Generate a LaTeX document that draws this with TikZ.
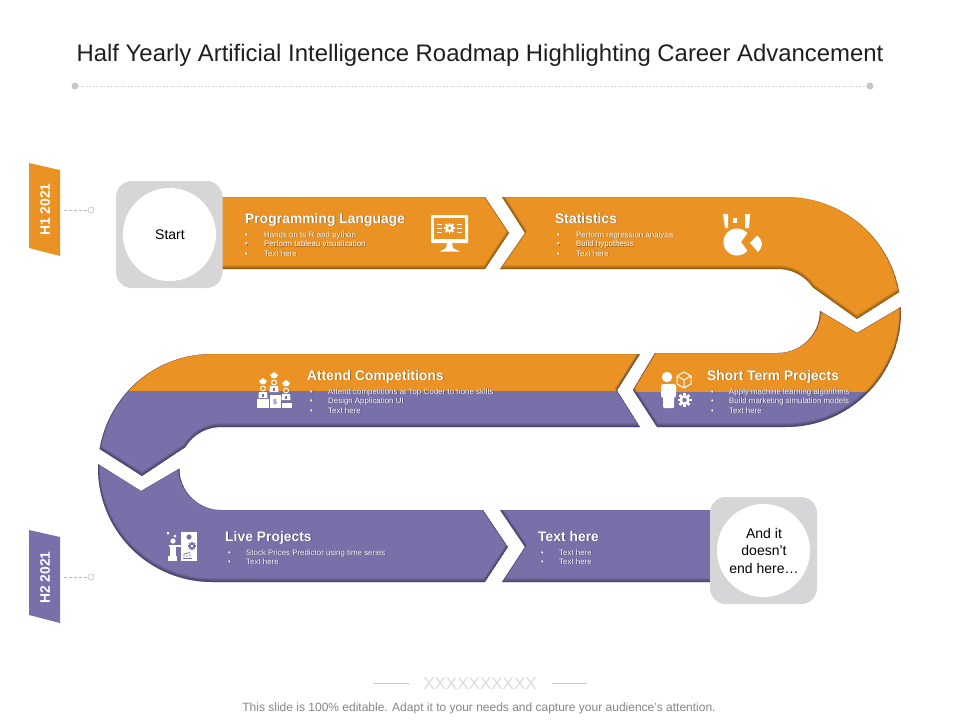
\documentclass[tikz,border=0pt]{standalone}
\usepackage{fontspec}
\setmainfont{Liberation Sans}
\definecolor{orangeB}{HTML}{EA9324}
\definecolor{purpleB}{HTML}{7870A8}
\definecolor{orangeD}{HTML}{5E3C0C}
\definecolor{purpleD}{HTML}{2E2A48}
\definecolor{orangeS}{HTML}{8A5A18}
\definecolor{purpleS}{HTML}{3F3A62}
\definecolor{boxgrey}{HTML}{D6D6D8}
\newcommand\shtxt[2]{\leavevmode\rlap{\kern.7pt\raisebox{-.7pt}{\textcolor{#1}{#2}}}#2}
\tikzset{
  headtxt/.style={anchor=base west,inner sep=0pt,text=white,font=\bfseries\fontsize{13.9}{15}\selectfont},
  bodytxt/.style={anchor=base west,inner sep=0pt,text=white,font=\fontsize{7.9}{9}\selectfont},
  tagtxt/.style={rotate=90,inner sep=0pt,text=white,font=\bfseries\fontsize{13.8}{15}\selectfont},
  blacktxt/.style={inner sep=0pt,align=center,text=black,font=\fontsize{14}{17.5}\selectfont},
  linkline/.style={draw=black!28,line width=.5pt,dash pattern=on 3pt off 2pt},
  linkdot/.style={circle,draw=black!28,fill=white,line width=.5pt,minimum size=6pt,inner sep=0pt},
  ruledot/.style={circle,fill=black!22,minimum size=7pt,inner sep=0pt},
  boxbg/.style={fill=boxgrey,rounded corners=16pt},
}
\newcommand\band[4]{%
  \begin{scope}
    \clip #1;
    \fill[#2] #1;
    #4
    \begin{scope}[yshift=.6pt]
      \draw[#3,opacity=.3,line width=1.2pt] #1;
    \end{scope}
    \begin{scope}[yshift=1.2pt]
      \draw[#3,opacity=.25,line width=2.4pt] #1;
    \end{scope}
    \begin{scope}[yshift=1.8pt]
      \draw[#3,opacity=.2,line width=3.6pt] #1;
    \end{scope}
  \end{scope}}
\newcommand\bline[6]{\node[bodytxt] (#1) at (#2,#3) {\makebox[#4pt][l]{\shtxt{#5}{•}}\shtxt{#5}{#6}};}
\newcommand\cog[5]{%
  \foreach \a in {0,45,...,315}{\draw[#4,line width=#3*.36pt] ({#1+#3*.6*cos(\a)},{#2+#3*.6*sin(\a)}) -- ({#1+#3*cos(\a)},{#2+#3*sin(\a)});}
  \fill[#4] (#1,#2) circle[radius=#3*.72pt];
  \fill[#5] (#1,#2) circle[radius=#3*.32pt];}
\def\segA{(215,197) -- (485,197) -- (509,233) -- (485,269) -- (215,269) -- cycle}
\def\segB{(502,197) -- (786,197) -- plot[domain=-90:-10,samples=40] ({786+115*cos(\x)},{312+115*sin(\x)}) -- (857,319) -- plot[domain=-34.4:-90,samples=25] ({778+42*cos(\x)},{311+42*sin(\x)}) -- (500,269) -- (525,233) -- cycle}
\def\segC{(820,311) -- (857,333) -- (901,307) -- plot[domain=-2.5:90,samples=40] ({786+115*cos(\x)},{312+115*sin(\x)}) -- (657,427) -- (633,390) -- (655,353) -- plot[domain=90:0,samples=25] ({778+42*cos(\x)},{311+42*sin(\x)}) -- cycle}
\def\segD{(640,354) -- (617,390.5) -- (640,427) -- plot[domain=270:211,samples=25] ({221+41.5*cos(\x)},{468.5+41.5*sin(\x)}) -- (142,476) -- plot[domain=189.6:270,samples=40] ({212+114*cos(\x)},{468+114*sin(\x)}) -- cycle}
\def\segE{(141,491) -- (179.5,468.5) -- plot[domain=180:90,samples=25] ({221+41.5*cos(\x)},{468.5+41.5*sin(\x)}) -- (483,510) -- (508,547) -- (485,582) -- plot[domain=90:182,samples=40] ({212+114*cos(\x)},{468+114*sin(\x)}) -- cycle}
\def\segF{(500,510) -- (525,547) -- (502,582) -- (720,582) -- (720,510) -- cycle}
\begin{document}
\begin{tikzpicture}[x=1pt,y=-1pt]
\useasboundingbox (0,0) rectangle (960,720);
% title
\node[inner sep=0pt,text=black!88,font=\fontsize{23.9}{27}\selectfont] (title) at (480,55.5) {Half Yearly Artificial Intelligence Roadmap Highlighting Career Advancement};
\node[ruledot] (ruleL) at (75,86) {};
\node[ruledot] (ruleR) at (870,86) {};
\draw[draw=black!16,line width=.6pt,dash pattern=on 2pt off 1.5pt] (ruleL) -- (ruleR);
% tags
\fill[orangeB] (29,163) -- (60,170) -- (60,256) -- (29,248) -- cycle;
\fill[purpleB] (29,530) -- (60,537) -- (60,623) -- (29,615) -- cycle;
\node[tagtxt] (tagA) at (45,209.5) {H1 2021};
\node[tagtxt] (tagB) at (45,577.5) {H2 2021};
\coordinate (tagAout) at (64,210);
\coordinate (tagBout) at (64,577);
\node[linkdot] (dotA) at (91,210) {};
\node[linkdot] (dotB) at (91,577) {};
\draw[linkline] (tagAout) -- (dotA);
\draw[linkline] (tagBout) -- (dotB);
% bands
\band{\segA}{orangeB}{orangeD}{}
\band{\segB}{orangeB}{orangeD}{}
\band{\segC}{purpleB}{purpleD}{\fill[orangeB] (620,300) rectangle (910,391.5);}
\band{\segD}{purpleB}{purpleD}{\fill[orangeB] (90,340) rectangle (650,391);}
\band{\segE}{purpleB}{purpleD}{}
\band{\segF}{purpleB}{purpleD}{}
% start / end boxes
\fill[boxbg] (116,181) rectangle (222.5,288);
\node[circle,fill=white,minimum size=93pt,inner sep=0pt] (startC) at (169.5,234.5) {};
\node[blacktxt] (startT) at (170,235) {Start};
\fill[boxbg] (710,497) rectangle (817,604);
\node[circle,fill=white,minimum size=93pt,inner sep=0pt] (endC) at (763.5,550.5) {};
\node[blacktxt] (endT) at (764,550.5) {And it\\doesn’t\\end here…};
% step texts
\node[headtxt] (h1) at (245,223) {\shtxt{orangeS}{Programming Language}};
\bline{a1}{245}{237.2}{19}{orangeS}{Hands on to R and python}
\bline{a2}{245}{246.7}{19}{orangeS}{Perform tableau visualization}
\bline{a3}{245}{256.2}{19}{orangeS}{Text here}
\node[headtxt] (h2) at (555,223) {\shtxt{orangeS}{Statistics}};
\bline{b1}{557}{237.2}{19}{orangeS}{Perform regression analysis}
\bline{b2}{557}{246.7}{19}{orangeS}{Build hypothesis}
\bline{b3}{557}{256.2}{19}{orangeS}{Text here}
\node[headtxt] (h3) at (707,380) {\shtxt{orangeS}{Short Term Projects}};
\bline{c1}{711}{394.2}{18}{purpleS}{Apply machine learning algorithms}
\bline{c2}{711}{403.2}{18}{purpleS}{Build marketing simulation models}
\bline{c3}{711}{413.2}{18}{purpleS}{Text here}
\node[headtxt] (h4) at (307,380) {\shtxt{orangeS}{Attend Competitions}};
\bline{d1}{310}{394.2}{18}{purpleS}{Attend competitions at Top-Coder to hone skills}
\bline{d2}{310}{403.2}{18}{purpleS}{Design Application UI}
\bline{d3}{310}{413.2}{18}{purpleS}{Text here}
\node[headtxt] (h5) at (225,541) {\shtxt{purpleS}{Live Projects}};
\bline{e1}{228}{555.2}{18}{purpleS}{Stock Prices Predictor using time series}
\bline{e2}{228}{564.2}{18}{purpleS}{Text here}
\node[headtxt] (h6) at (538,541) {\shtxt{purpleS}{Text here}};
\bline{f1}{541}{555.2}{18}{purpleS}{Text here}
\bline{f2}{541}{564.2}{18}{purpleS}{Text here}
% monitor icon
\fill[white,rounded corners=1pt] (431,215) rectangle (468,243);
\fill[orangeB] (434,218) rectangle (465,238.5);
\fill[white] (447,243) -- (452,243) -- (453,248) -- (460,251.5) -- (440,251.5) -- (446,248) -- cycle;
\cog{449.5}{228}{5.5}{white}{orangeB}
\foreach \yy in {224,228,232}{
  \draw[white,line width=.5pt] (437,\yy) -- (442,\yy);
  \draw[white,line width=.5pt] (457,\yy) -- (462,\yy);}
% statistics icon
\fill[white] (723,214) -- (728,214) -- (728,228) -- (725,228) -- cycle;
\fill[white] (733,218) rectangle (737,223);
\fill[white] (745,214) -- (750,214) -- (749,228) -- (745,228) -- cycle;
\fill[white] (741,242) -- plot[domain=40:320,samples=40] ({737+13.5*cos(\x)},{242+13.5*sin(\x)}) -- cycle;
\fill[white] (750,243) -- (757,235.5) .. controls (760,238) and (762,241) .. (762,244) .. controls (762,247) and (760,250) .. (758,252) -- cycle;
% podium icon
\fill[white] (257,399) rectangle (268.5,408);
\fill[white] (269.5,395) rectangle (280.5,408);
\fill[white] (281.5,403) rectangle (292,408);
\node[inner sep=0pt,text=purpleB,font=\bfseries\fontsize{7}{8}\selectfont] (dollar) at (275,402) {\$};
\foreach \px/\py in {263/382,274/376,286/384}{
  \fill[white] (\px-4,\py-1) -- (\px,\py-4) -- (\px+4,\py-1) -- (\px+2,\py+2) -- (\px-2,\py+2) -- cycle;
  \draw[white,line width=.9pt] (\px,\py+6.5) circle[radius=2.5pt];
  \fill[white] (\px-4.5,\py+16) -- (\px-4,\py+10) -- (\px+4,\py+10) -- (\px+4.5,\py+16) -- cycle;
  \fill[purpleB] (\px-.9,\py+11.5) rectangle (\px+.9,\py+14.5);}
% short-term icon
\fill[white] (667,377) circle[radius=5.2pt];
\fill[white,rounded corners=2.5pt] (661,384) rectangle (676,398);
\fill[white,rounded corners=1pt] (663,392) rectangle (674,408);
\draw[white,line width=1pt,line join=round] (684,372) -- (691,376) -- (691,384) -- (684,388) -- (677,384) -- (677,376) -- cycle (677,376) -- (684,380) -- (691,376) (684,380) -- (684,388);
\cog{684.5}{400}{7}{white}{purpleB}
% live-project icon
\fill[white] (181,532) rectangle (197,561);
\fill[purpleB] (189,537) circle[radius=2.6pt];
\cog{192}{546}{4}{purpleB}{white}
\draw[purpleB,line width=.8pt] (183,558.5) -- (192,558.5) (184,557) -- (184,554) -- (190,552.5) (187,557) -- (187,555) (190,557) -- (190,554);
\fill[white] (173,541) circle[radius=2.6pt];
\fill[white] (169,544.5) rectangle (177,546.5);
\fill[white] (177,544.5) rectangle (181,546.5);
\fill[white] (169.5,546) rectangle (176,556);
\fill[white] (168,556) rectangle (177,561);
\fill[white] (168,531.5) -- (169.5,533) -- (168,534.5) -- (166.5,533) -- cycle;
\fill[white] (175,534.5) -- (176.5,536) -- (175,537.5) -- (173.5,536) -- cycle;
% footer
\node[inner sep=0pt,text=black!14,font=\fontsize{17}{19}\selectfont] (xs) at (480,683.5) {XXXXXXXXXX};
\coordinate (lnA1) at (374,683.5);
\coordinate (lnA2) at (409,683.5);
\coordinate (lnB1) at (552,683.5);
\coordinate (lnB2) at (587,683.5);
\draw[black!22,line width=.6pt] (lnA1) -- (lnA2);
\draw[black!22,line width=.6pt] (lnB1) -- (lnB2);
\node[inner sep=0pt,text=black!48,font=\fontsize{12}{14}\selectfont] (foot) at (479,708) {This slide is 100\% editable. Adapt it to your needs and capture your audience's attention.};
\end{tikzpicture}
\end{document}
